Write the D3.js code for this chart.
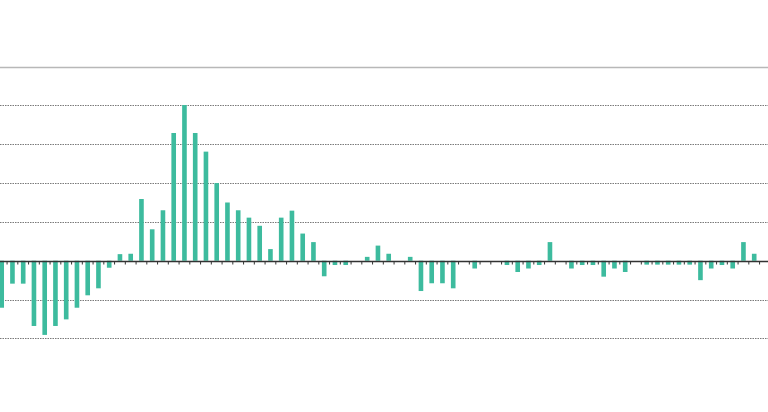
<!DOCTYPE html>
<html>
<head>
<meta charset="utf-8">
<script src="https://cdn.jsdelivr.net/npm/d3@7"></script>
<style>
  html, body { margin: 0; padding: 0; background: #fff; }
  svg { display: block; }
</style>
</head>
<body>
<div id="chart"></div>
<script>
// Bar index labels (no labels are shown in the reference)
const categories = d3.range(72).map(i => "P" + (i + 1));
// Values in gridline units (one gridline = 1 unit)
const values = [
  -1.21, -0.59, -0.59, -1.68, -1.91, -1.68, -1.51, -1.21, -0.89, -0.71,
  -0.18, 0.17, 0.18, 1.59, 0.81, 1.30, 3.29, 4.01, 3.29, 2.81,
  2.00, 1.50, 1.30, 1.11, 0.90, 0.30, 1.11, 1.29, 0.70, 0.48,
  -0.40, -0.11, -0.11, 0.00, 0.10, 0.39, 0.18, 0.00, 0.10, -0.78,
  -0.58, -0.58, -0.71, 0.00, -0.20, 0.00, 0.00, -0.11, -0.29, -0.20,
  -0.11, 0.48, 0.00, -0.20, -0.11, -0.11, -0.41, -0.20, -0.29, 0.00,
  -0.10, -0.10, -0.10, -0.10, -0.10, -0.50, -0.20, -0.11, -0.20, 0.48,
  0.18, 0.00
];
const gridValues = [-2, -1, 1, 2, 3, 4, 5];

const W = 768, H = 412;
const svg = d3.select("#chart").append("svg").attr("width", W).attr("height", H);

const y = d3.scaleLinear().domain([-2, 5]).range([338.4, 66.6]);
const step = 10.75;
const x0 = 1.7 - step / 2;
const x = d3.scaleBand().domain(categories)
  .range([x0, x0 + step * categories.length])
  .paddingInner(0.57).paddingOuter(0.285);

// gridlines
svg.append("g").selectAll("line").data(gridValues).join("line")
  .attr("x1", 0).attr("x2", W)
  .attr("y1", d => Math.round(y(d)) + 0.5).attr("y2", d => Math.round(y(d)) + 0.5)
  .attr("stroke", d => d === 5 ? "#b8b8b8" : "#7a7a7a")
  .attr("stroke-width", d => d === 5 ? 1.4 : 1.1)
  .attr("stroke-dasharray", d => d === 5 ? null : "1.5,1");

// bars
svg.append("g").selectAll("rect").data(values).join("rect")
  .attr("x", (d, i) => x(categories[i]))
  .attr("width", x.bandwidth())
  .attr("y", d => y(Math.max(0, d)))
  .attr("height", d => Math.abs(y(d) - y(0)))
  .attr("fill", "#3dbb9e");

// zero axis with ticks between bars
const yz = Math.round(y(0)) + 0.5;
svg.append("line").attr("x1", 0).attr("x2", W).attr("y1", yz).attr("y2", yz)
  .attr("stroke", "#333").attr("stroke-width", 1.4);
svg.append("g").selectAll("line").data(categories).join("line")
  .attr("x1", d => x(d) - x.step() * x.paddingInner() / 2 + x.step())
  .attr("x2", d => x(d) - x.step() * x.paddingInner() / 2 + x.step())
  .attr("y1", yz).attr("y2", yz + 3)
  .attr("stroke", "#333").attr("stroke-width", 1);
</script>
</body>
</html>
